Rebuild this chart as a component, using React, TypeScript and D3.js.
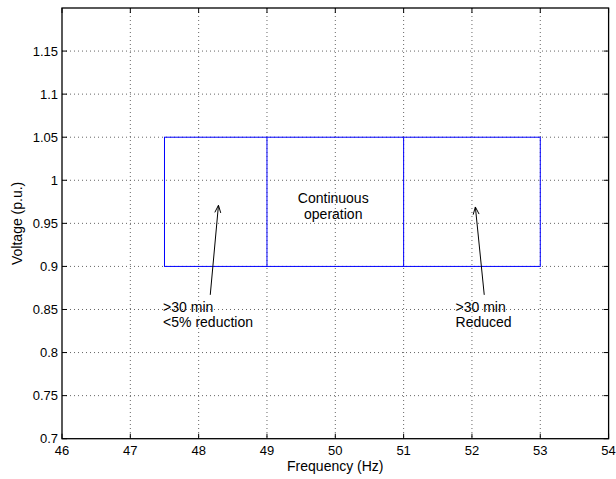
import React from "react";
import * as d3 from "d3";

const xTicks = [46, 47, 48, 49, 50, 51, 52, 53, 54];
const yTicks = [0.7, 0.75, 0.8, 0.85, 0.9, 0.95, 1, 1.05, 1.1, 1.15];
const xDomain = [46, 54];
const yDomain = [0.7, 1.2];

// Operating region outline and dividers
const boxFreq = [47.5, 53];
const boxVolt = [0.9, 1.05];
const dividers = [49, 51];

// Arrows: tail -> tip in data coordinates
const arrows = [
  { from: [48.17, 0.867], to: [48.29, 0.971] },
  { from: [52.18, 0.867], to: [52.05, 0.969] },
];

const labels = [
  { x: 47.48, y: 0.8475, text: ">30 min", anchor: "start" },
  { x: 47.48, y: 0.8295, text: "<5% reduction", anchor: "start" },
  { x: 51.76, y: 0.8475, text: ">30 min", anchor: "start" },
  { x: 51.76, y: 0.8295, text: "Reduced", anchor: "start" },
  { x: 49.97, y: 0.9735, text: "Continuous", anchor: "middle" },
  { x: 49.97, y: 0.9555, text: "operation", anchor: "middle" },
];

const W = 616;
const H = 479;
const L = 62, R = 608.6, T = 8, B = 438.7;
const FONT = "'Liberation Sans', Arial, Helvetica, sans-serif";

export default function App() {
  const x = d3.scaleLinear().domain(xDomain).range([L, R]);
  const y = d3.scaleLinear().domain(yDomain).range([B, T]);
  const tick = 5;
  const gridColor = "#666";

  const arrowHead = (fx: number, fy: number, tx: number, ty: number) => {
    const ang = Math.atan2(ty - fy, tx - fx);
    const len = 8, half = 0.38;
    const p1 = [tx - len * Math.cos(ang - half), ty - len * Math.sin(ang - half)];
    const p2 = [tx - len * Math.cos(ang + half), ty - len * Math.sin(ang + half)];
    return `M${p1[0]},${p1[1]}L${tx},${ty}L${p2[0]},${p2[1]}`;
  };

  return (
    <div style={{ position: "absolute", left: 0, top: 0 }}>
      <svg width={W} height={H} style={{ display: "block", background: "#fff" }}>
        <rect x={0} y={0} width={W} height={H} fill="#fff" />
        {/* grid */}
        {xTicks.slice(1, -1).map((t) => (
          <line key={"gx" + t} x1={x(t)} x2={x(t)} y1={T} y2={B} stroke={gridColor} strokeWidth={1} strokeDasharray="1 3" />
        ))}
        {yTicks.slice(1).map((t) => (
          <line key={"gy" + t} x1={L} x2={R} y1={y(t)} y2={y(t)} stroke={gridColor} strokeWidth={1} strokeDasharray="1 3" />
        ))}
        {/* data */}
        <rect x={x(boxFreq[0])} y={y(boxVolt[1])} width={x(boxFreq[1]) - x(boxFreq[0])} height={y(boxVolt[0]) - y(boxVolt[1])} fill="none" stroke="#0000ff" strokeWidth={1} />
        {dividers.map((d) => (
          <line key={"d" + d} x1={x(d)} x2={x(d)} y1={y(boxVolt[0])} y2={y(boxVolt[1])} stroke="#0000ff" strokeWidth={1} />
        ))}
        {arrows.map((a, i) => {
          const fx = x(a.from[0]), fy = y(a.from[1]), tx = x(a.to[0]), ty = y(a.to[1]);
          return (
            <g key={"a" + i} stroke="#000" fill="none" strokeWidth={1}>
              <line x1={fx} y1={fy} x2={tx} y2={ty} />
              <path d={arrowHead(fx, fy, tx, ty)} />
            </g>
          );
        })}
        {labels.map((l, i) => (
          <text key={"l" + i} x={x(l.x)} y={y(l.y)} textAnchor={l.anchor as any} fontFamily={FONT} fontSize={14} fill="#000">
            {l.text}
          </text>
        ))}
        {/* ticks */}
        {xTicks.map((t) => (
          <g key={"tx" + t}>
            <line x1={x(t)} x2={x(t)} y1={B} y2={B - tick} stroke="#000" />
            <line x1={x(t)} x2={x(t)} y1={T} y2={T + tick} stroke="#000" />
            <text x={x(t)} y={455} textAnchor="middle" fontFamily={FONT} fontSize={13}>{t}</text>
          </g>
        ))}
        {yTicks.map((t) => (
          <g key={"ty" + t}>
            <line x1={L} x2={L + tick} y1={y(t)} y2={y(t)} stroke="#000" />
            <line x1={R} x2={R - tick} y1={y(t)} y2={y(t)} stroke="#000" />
            <text x={58} y={y(t) + 4.5} textAnchor="end" fontFamily={FONT} fontSize={13}>{t}</text>
          </g>
        ))}
        <rect x={L} y={T} width={R - L} height={B - T} fill="none" stroke="#000" strokeWidth={1.3} />
        <text x={(L + R) / 2} y={471} textAnchor="middle" fontFamily={FONT} fontSize={14}>Frequency (Hz)</text>
        <text transform={`translate(22,${(T + B) / 2}) rotate(-90)`} textAnchor="middle" fontFamily={FONT} fontSize={14}>Voltage (p.u.)</text>
      </svg>
    </div>
  );
}
